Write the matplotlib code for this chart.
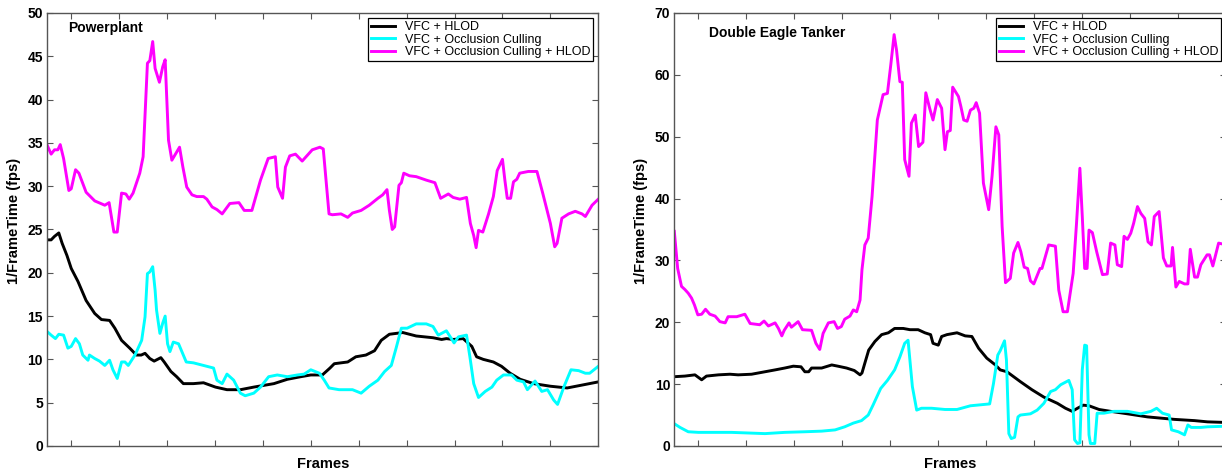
import matplotlib
matplotlib.use('Agg')
import matplotlib.pyplot as plt

plt.rcParams['font.family'] = ['Liberation Sans', 'DejaVu Sans']

labels = ['VFC + HLOD', 'VFC + Occlusion Culling', 'VFC + Occlusion Culling + HLOD']
colors = ['black', '#00ffff', '#ff00ff']

# Powerplant (frame, fps)
pp_hlod_x = [-50, -42, -35, -26, -19, -9, 0, 14, 31, 49, 63, 80, 91, 105, 122, 136, 146, 154, 164, 173, 187, 194, 208, 220, 234, 255, 276, 301, 325, 353, 381, 423, 451, 479, 500, 524, 540,
             549, 577, 594, 615, 633, 647, 664, 692, 720, 755, 773, 783, 797, 818, 836, 846, 860, 881, 898, 916, 937, 965, 1000, 1035, 1063, 1100]
pp_hlod_y = [23.8, 23.8, 24.2, 24.6, 23.4, 22.0, 20.5, 19.0, 16.8, 15.3, 14.6, 14.5, 13.6, 12.2, 11.3, 10.5, 10.5, 10.7, 10.1, 9.8, 10.2, 9.7, 8.6, 8.0, 7.2, 7.2, 7.3, 6.8, 6.5, 6.5, 6.8, 7.2, 7.7, 8.0, 8.2, 8.2, 9.0,
             9.5, 9.7, 10.3, 10.5, 11.0, 12.2, 12.9, 13.1, 12.7, 12.5, 12.3, 12.4, 12.3, 12.4, 11.5, 10.3, 10.0, 9.7, 9.2, 8.4, 7.7, 7.2, 6.9, 6.7, 7.0, 7.4]

pp_occ_x = [-50, -42, -33, -26, -16, -7, 0, 9, 17, 24, 35, 38, 49, 59, 70, 80, 87, 96, 105, 112, 119, 133, 147, 154, 159, 164, 170, 175, 178, 185, 191, 196, 201, 206, 213, 224, 240, 255, 276, 297, 304, 315, 325, 339, 353, 363, 381, 395, 412, 430, 451, 472, 486, 500, 518,
            528, 538, 559, 587, 605, 622, 640, 654, 668, 678, 689, 701, 720, 741, 755, 766, 783, 799, 808, 825, 832, 840, 850, 864, 878, 888, 902, 919, 930, 944, 952, 968, 982, 994, 1007, 1015, 1028, 1043, 1059, 1073, 1082, 1100]
pp_occ_y = [13.2, 12.8, 12.4, 12.9, 12.8, 11.3, 11.5, 12.4, 11.8, 10.5, 9.9, 10.5, 10.1, 9.8, 9.3, 9.9, 8.8, 7.8, 9.7, 9.7, 9.3, 10.5, 12.2, 14.9, 19.9, 20.1, 20.7, 18.0, 15.7, 13.0, 14.2, 15.0, 11.8, 10.9, 12.0, 11.8, 9.7, 9.6, 9.3, 9.0, 7.6, 7.2, 8.3, 7.6, 6.1, 5.8, 6.1, 6.8, 8.0, 8.2, 8.0, 8.2, 8.3, 8.8, 8.4,
            7.6, 6.7, 6.5, 6.5, 6.1, 6.9, 7.6, 8.6, 9.3, 11.3, 13.6, 13.6, 14.1, 14.1, 13.8, 12.8, 13.3, 11.9, 12.6, 12.8, 10.3, 7.2, 5.6, 6.3, 6.8, 7.6, 8.2, 8.2, 7.6, 7.4, 6.5, 7.5, 6.3, 6.5, 5.3, 4.8, 6.8, 8.8, 8.7, 8.4, 8.4, 9.2]

pp_all_x = [-50, -42, -35, -28, -23, -16, -5, 0, 9, 16, 31, 49, 70, 79, 89, 96, 105, 114, 121, 129, 143, 150, 159, 164, 170, 175, 184, 191, 196, 203, 210, 226, 233, 241, 252, 262, 276, 283, 294, 304, 315, 331, 350, 361, 377, 395, 411, 426, 431, 441, 447, 456, 468, 482, 503, 519, 526,
            538, 545, 563, 577, 587, 605, 622, 640, 650, 659, 664, 670, 675, 684, 689, 694, 706, 720, 741, 759, 771, 787, 797, 811, 825, 833, 840, 845, 850, 859, 871, 881, 889, 900, 905, 910, 917, 923, 930, 936, 954, 972, 984, 1000, 1009, 1014, 1024, 1038, 1052, 1066, 1073, 1087, 1100]
pp_all_y = [34.7, 33.7, 34.2, 34.2, 34.8, 33.2, 29.5, 29.7, 31.9, 31.5, 29.3, 28.3, 27.8, 28.1, 24.7, 24.7, 29.2, 29.1, 28.5, 29.2, 31.5, 33.4, 44.2, 44.5, 46.7, 43.6, 42.0, 43.8, 44.6, 35.3, 33.0, 34.5, 32.2, 29.9, 29.0, 28.8, 28.8, 28.5, 27.6, 27.3, 26.8, 28.0, 28.1, 27.2, 27.2, 30.7, 33.2, 33.4, 29.9, 28.6, 32.2, 33.5, 33.7, 32.9, 34.2, 34.5, 34.3,
            26.8, 26.7, 26.8, 26.4, 26.9, 27.2, 27.8, 28.6, 29.0, 29.6, 27.2, 25.0, 25.3, 30.1, 30.4, 31.5, 31.2, 31.1, 30.7, 30.4, 28.6, 29.1, 28.7, 28.5, 28.7, 25.7, 24.3, 22.9, 24.9, 24.7, 26.8, 28.8, 31.8, 33.1, 30.7, 28.6, 28.6, 30.5, 30.8, 31.5, 31.7, 31.7, 29.2, 25.7, 23.0, 23.4, 26.3, 26.8, 27.1, 26.8, 26.5, 27.8, 28.5]

# Double Eagle Tanker
de_hlod_x = [-50, -28, -7, 7, 17, 42, 66, 83, 111, 132, 160, 180, 198, 214, 222, 230, 236, 257, 278, 291, 309, 325, 337, 341, 347, 355, 368, 382, 396, 409, 427, 441, 458, 472, 484, 489, 500, 507, 518,
             539, 556, 570, 584, 601, 619, 629, 643, 671, 695, 720, 748, 765, 779, 790, 802, 814, 835, 859, 894, 936, 964, 992, 1034, 1061, 1100]
de_hlod_y = [11.2, 11.3, 11.5, 10.7, 11.3, 11.5, 11.6, 11.5, 11.6, 11.9, 12.3, 12.6, 12.9, 12.8, 12.0, 12.0, 12.6, 12.6, 13.1, 12.9, 12.6, 12.2, 11.5, 11.8, 13.4, 15.5, 16.9, 18.0, 18.3, 19.0, 19.0, 18.8, 18.8, 18.3, 18.0, 16.6, 16.3, 17.7, 18.0,
             18.3, 17.8, 17.7, 15.8, 14.2, 13.1, 12.3, 12.0, 10.4, 9.1, 7.9, 6.9, 6.1, 5.6, 6.1, 6.6, 6.5, 5.9, 5.6, 5.2, 4.7, 4.5, 4.3, 4.1, 3.9, 3.8]

de_occ_x = [-50, -38, -21, 0, 69, 139, 180, 222, 257, 285, 305, 323, 340, 354, 364, 380, 394, 409, 420, 430, 437, 446, 455, 465, 486, 514, 539, 567, 607, 615, 624, 629, 638, 642, 647, 652, 659, 666, 671, 692, 706, 720, 734, 744, 755, 772, 779, 784,
            790, 795, 800, 805, 809, 814, 817, 826, 831, 845, 866, 894, 922, 943, 955, 967, 981, 986, 1000, 1013, 1020, 1027, 1047, 1061, 1100]
de_occ_y = [3.6, 3.0, 2.3, 2.2, 2.2, 2.0, 2.2, 2.3, 2.4, 2.6, 3.1, 3.7, 4.1, 5.0, 6.6, 9.3, 10.6, 12.3, 14.4, 16.6, 17.1, 9.6, 5.8, 6.1, 6.1, 5.9, 5.9, 6.5, 6.8, 10.1, 14.7, 15.4, 17.0, 13.9, 2.0, 1.2, 1.4, 4.7, 5.0, 5.2, 5.8, 6.9, 8.8, 9.1, 9.9, 10.6, 9.1, 1.0,
            0.4, 0.5, 12.3, 16.3, 16.2, 1.8, 0.4, 0.4, 5.3, 5.3, 5.6, 5.6, 5.2, 5.6, 6.1, 5.3, 5.0, 2.6, 2.3, 1.8, 3.4, 3.0, 3.0, 3.1, 3.2]

de_all_x = [-50, -43, -35, -28, -21, -14, -8, -1, 7, 15, 24, 35, 45, 56, 62, 80, 97, 108, 128, 137, 146, 160, 167, 174, 179, 189, 194, 208, 217, 236, 245, 253, 260, 271, 283, 290, 298, 305, 316, 323, 330, 337, 341, 347, 354, 362, 373, 385, 394, 401, 408, 413, 420, 425, 430, 439,
            444, 452, 459, 468, 474, 482, 489, 498, 507, 514, 519, 525, 530, 542, 547, 553, 560, 567, 574, 579, 586, 594, 605, 612, 620, 626, 633, 640, 650, 657, 666, 672, 679, 686, 692, 699, 712, 716, 730, 744, 751, 760, 769, 781, 788, 795, 800, 805, 810, 814,
            821, 830, 842, 852, 859, 868, 873, 882, 887, 894, 901, 907, 915, 922, 930, 937, 944, 950, 960, 969, 976, 985, 988, 995, 1002, 1013, 1020, 1025, 1034, 1040, 1047, 1060, 1065, 1072, 1084, 1100]
de_all_y = [34.7, 28.7, 25.8, 25.3, 24.7, 23.9, 22.8, 21.2, 21.3, 22.1, 21.3, 21.0, 20.1, 19.9, 20.9, 20.9, 21.3, 19.8, 19.6, 20.2, 19.4, 19.9, 19.0, 17.8, 18.7, 19.9, 19.2, 20.1, 18.8, 18.7, 16.6, 15.6, 18.2, 19.9, 20.1, 19.0, 19.3, 20.5, 21.0, 22.0, 21.7, 23.6, 28.5, 32.5, 33.6, 40.3, 52.7, 56.8, 57.0, 61.6, 66.5, 64.0, 58.9, 58.8, 46.3, 43.6,
            52.2, 53.5, 48.4, 49.1, 57.1, 54.6, 52.7, 56.0, 54.6, 47.9, 50.8, 51.0, 58.0, 56.5, 54.9, 52.7, 52.5, 54.3, 54.6, 55.5, 53.8, 42.5, 38.2, 43.6, 51.6, 50.3, 35.5, 26.4, 27.1, 31.2, 32.9, 31.4, 28.9, 28.7, 26.7, 26.2, 28.7, 28.7, 32.5, 32.3, 25.2, 21.7, 21.7, 27.9, 36.0, 44.9, 37.1, 28.7, 28.7, 34.9,
            34.5, 31.4, 27.7, 27.8, 32.8, 32.5, 29.3, 29.0, 33.9, 33.4, 34.4, 36.0, 38.7, 37.6, 36.8, 33.0, 32.5, 37.1, 37.9, 30.4, 29.1, 29.1, 32.1, 25.7, 26.6, 26.2, 26.2, 31.8, 27.3, 27.3, 29.3, 30.9, 30.9, 29.1, 32.8, 32.5]

frame_ticks = [0, 100, 200, 300, 400, 500, 600, 700, 800, 900, 1000]


def drawPanel(ax, name, series, ymax, ystep, namepos):
    for (xs, ys), lab, col in zip(series, labels, colors):
        ax.plot(xs, ys, color=col, lw=2.1, label=lab)
    ax.set_xlim(-50, 1100)
    ax.set_ylim(0, ymax)
    ax.set_xticks(frame_ticks)
    ax.set_xticklabels([])
    ax.set_yticks(range(0, ymax + 1, ystep))
    ax.tick_params(direction='in', top=True, right=True, length=4, width=0.8, color='#555555', labelsize=10, pad=3)
    for t in ax.get_yticklabels():
        t.set_fontweight('bold')
    for s in ax.spines.values():
        s.set_color('#555555')
        s.set_linewidth(1.0)
    ax.set_xlabel('Frames', fontsize=10.5, fontweight='bold')
    ax.xaxis.set_label_coords(0.5, -0.025)
    ax.xaxis.label.set_va('top')
    ax.set_ylabel('1/FrameTime (fps)', fontsize=10.5, fontweight='bold', labelpad=1)
    ax.yaxis.set_label_coords(-0.047, 0.52)
    ax.text(namepos[0], namepos[1], name, transform=ax.transAxes, fontsize=10, fontweight='bold', va='center')
    leg = ax.legend(loc='upper right', fontsize=9, fancybox=False, framealpha=1, edgecolor='black',
                    borderaxespad=0.4, handlelength=1.9, handletextpad=0.8, borderpad=0.25, labelspacing=0.05)
    leg.get_frame().set_linewidth(0.9)


fig = plt.figure(figsize=(12.22, 4.70), dpi=100)
ax1 = fig.add_axes([0.0387, 0.0511, 0.4509, 0.9213])
ax2 = fig.add_axes([0.5518, 0.0511, 0.4517, 0.9213])

drawPanel(ax1, 'Powerplant', [(pp_hlod_x, pp_hlod_y), (pp_occ_x, pp_occ_y), (pp_all_x, pp_all_y)], 50, 5, (0.038, 0.965))
drawPanel(ax2, 'Double Eagle Tanker', [(de_hlod_x, de_hlod_y), (de_occ_x, de_occ_y), (de_all_x, de_all_y)], 70, 10, (0.063, 0.953))

fig.savefig('out.png', dpi=100)
